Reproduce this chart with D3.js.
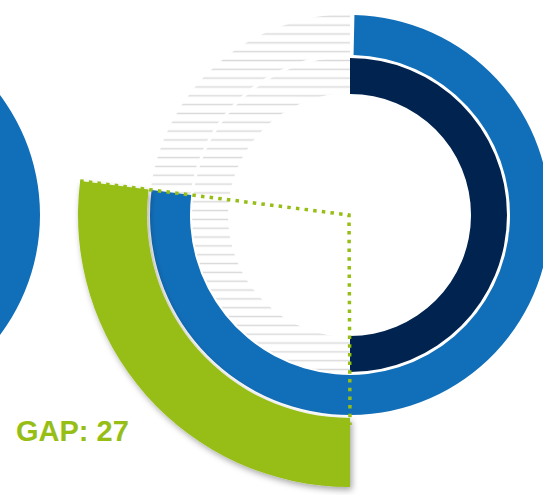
<!DOCTYPE html>
<html><head><meta charset="utf-8">
<script src="https://cdn.jsdelivr.net/npm/d3@7"></script>
<style>html,body{margin:0;padding:0;background:#fff;overflow:hidden}</style>
</head><body>
<svg id="c" width="543" height="495"></svg>
<script>
// ---- data (percent of full circle) ----
const outerValue = [77];       // blue outer ring
const innerValue = [50];       // navy inner ring
const gapValue   = [27];       // green gap wedge (outer - inner)
const gapLabel   = ["GAP: 27"];
const neighbourValue = [100];  // partially visible neighbouring ring

// ---- layout ----
const W = 543, H = 495, cx = 350, cy = 215;
const colors = {blue: "#116EB8", navy: "#00234F", green: "#96BE15", hatch: "#d9d9d9"};
const svg = d3.select("#c");
const angle = d3.scaleLinear().domain([0, 100]).range([0, 2 * Math.PI]);

const defs = svg.append("defs");
const pat = defs.append("pattern").attr("id", "hatch")
  .attr("patternUnits", "userSpaceOnUse").attr("width", W).attr("height", 8.83);
pat.append("line").attr("x1", 0).attr("x2", W).attr("y1", 4.47).attr("y2", 4.47)
  .attr("stroke", colors.hatch).attr("stroke-width", 1.6);
const f = defs.append("filter").attr("id", "shadow")
  .attr("x", "-20%").attr("y", "-20%").attr("width", "140%").attr("height", "140%");
f.append("feDropShadow").attr("dx", 2).attr("dy", 3).attr("stdDeviation", 3)
  .attr("flood-color", "#000").attr("flood-opacity", 0.35);

const arc = d3.arc();

// ghost (hatched) remainder of the rings
const ghost = svg.append("g").attr("transform", `translate(${cx},${cy})`);
ghost.append("path").attr("fill", "url(#hatch)")
  .attr("d", arc({innerRadius: 161, outerRadius: 201, startAngle: angle(outerValue[0]), endAngle: angle(100)}));
ghost.append("path").attr("fill", "url(#hatch)")
  .attr("d", arc({innerRadius: 122, outerRadius: 158, startAngle: angle(innerValue[0]), endAngle: angle(100)}));

// neighbouring ring on the left
svg.append("path").attr("fill", colors.blue)
  .attr("transform", `translate(${-160},${cy})`)
  .attr("d", arc({innerRadius: 158, outerRadius: 200, startAngle: 0, endAngle: angle(neighbourValue[0])}));

const g = svg.append("g").attr("transform", `translate(${cx},${cy})`);

// outer blue ring
const pad = 4 / 180;
g.append("path").attr("fill", colors.blue)
  .attr("d", arc({innerRadius: 160, outerRadius: 200, startAngle: angle(0) + pad, endAngle: angle(outerValue[0])}));

// inner navy ring
g.append("path").attr("fill", colors.navy)
  .attr("d", arc({innerRadius: 121, outerRadius: 157, startAngle: angle(0), endAngle: angle(innerValue[0])}));

// green gap wedge
const gStart = angle(innerValue[0]), gEnd = angle(innerValue[0] + gapValue[0]);
g.append("path").attr("fill", colors.green).attr("filter", "url(#shadow)")
  .attr("d", arc({innerRadius: 203, outerRadius: 272, startAngle: gStart, endAngle: gEnd}));

// dotted wedge outline
const pt = (a, r) => [r * Math.sin(a), -r * Math.cos(a)];
g.append("path").attr("fill", "none").attr("stroke", colors.green)
  .attr("stroke-width", 3.5).attr("stroke-dasharray", "3.5 5.2")
  .attr("d", d3.line()([pt(gEnd, 272), [-1, 0], pt(gStart, 210)]));

// label
svg.append("text").attr("x", 16).attr("y", 441)
  .attr("font-family", "'Liberation Sans', Arial, sans-serif")
  .attr("font-weight", "bold").attr("font-size", 29)
  .attr("fill", colors.green).text(gapLabel[0]);
</script>
</body></html>
